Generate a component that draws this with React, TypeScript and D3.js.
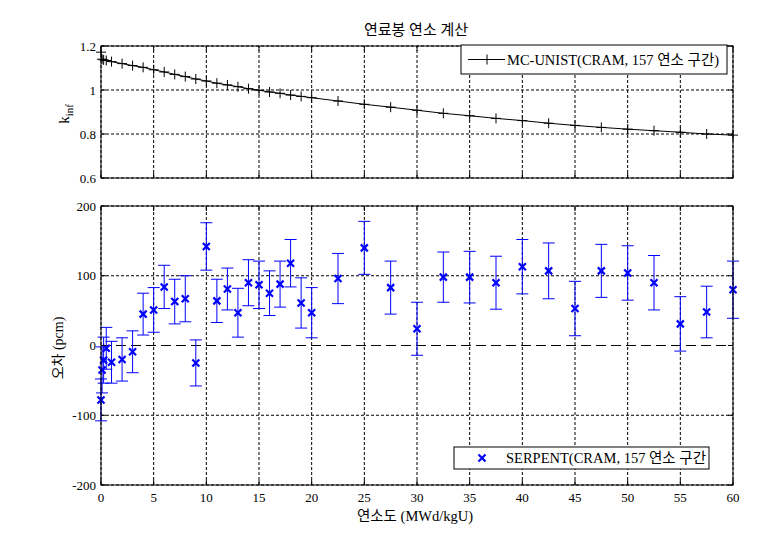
import * as d3 from "d3";

// burnup steps (MWd/kgU)
const burnup = [0, 0.1, 0.25, 0.5, 1, 2, 3, 4, 5, 6, 7, 8, 9, 10, 11, 12, 13, 14, 15, 16, 17, 18, 19, 20,
  22.5, 25, 27.5, 30, 32.5, 35, 37.5, 40, 42.5, 45, 47.5, 50, 52.5, 55, 57.5, 60];
// MC-UNIST k-inf
const kinf = [1.172, 1.14, 1.137, 1.134, 1.129, 1.12, 1.111, 1.103, 1.092, 1.082, 1.071, 1.061, 1.05, 1.041,
  1.031, 1.023, 1.015, 1.006, 0.999, 0.991, 0.985, 0.977, 0.971, 0.965,
  0.95, 0.935, 0.922, 0.908, 0.894, 0.883, 0.871, 0.861, 0.849, 0.839, 0.83, 0.822, 0.815, 0.808, 0.8, 0.795];
// SERPENT difference (pcm) and its error
const diffPcm = [-78, -35, -21, -4, -24, -20, -9, 45, 51, 84, 63, 67, -25, 142, 64, 81, 47, 90, 87, 75, 88, 118, 61, 47,
  96, 140, 83, 24, 98, 98, 90, 113, 107, 53, 107, 104, 90, 31, 48, 80];
const errPcm = [30, 33, 33, 30, 30, 31, 30, 30, 32, 31, 32, 33, 33, 34, 31, 30, 35, 33, 34, 32, 33, 34, 36, 36,
  36, 38, 38, 38, 36, 37, 38, 39, 40, 39, 38, 39, 39, 39, 37, 41];

const xTicks = [0, 5, 10, 15, 20, 25, 30, 35, 40, 45, 50, 55, 60];
const topTicks = [0.6, 0.8, 1, 1.2];
const botTicks = [-200, -100, 0, 100, 200];

const title = "연료봉 연소 계산";
const xLabel = "연소도 (MWd/kgU)";
const botYLabel = "오차 (pcm)";
const topLegend = "MC-UNIST(CRAM, 157 연소 구간)";
const botLegend = "SERPENT(CRAM, 157 연소 구간";

const W = 780;
const H = 558;
const font = "'Liberation Serif', 'Times New Roman', 'Noto Sans CJK KR', serif";

const App = () => {
  const x = d3.scaleLinear().domain([0, 60]).range([101, 733]);
  const yTop = d3.scaleLinear().domain([0.6, 1.2]).range([178, 46]);
  const yBot = d3.scaleLinear().domain([-200, 200]).range([485, 206]);

  const kLine = d3.line<number>()
    .x((d, i) => x(burnup[i]))
    .y((d) => yTop(d));

  const blue = "#0000ff";
  const tk = 5;

  const frame = (y: d3.ScaleLinear<number, number>, yt: number[]) => {
    const [y0, y1] = y.range();
    return (
      <g>
        <rect x={x(0)} y={y1} width={x(60) - x(0)} height={y0 - y1} fill="none" stroke="#000" strokeWidth={1} />
        {xTicks.map((t) => (
          <g key={"xt" + t}>
            <line x1={x(t)} x2={x(t)} y1={y0} y2={y0 - tk} stroke="#000" />
            <line x1={x(t)} x2={x(t)} y1={y1} y2={y1 + tk} stroke="#000" />
          </g>
        ))}
        {yt.map((t) => (
          <g key={"yt" + t}>
            <line x1={x(0)} x2={x(0) + tk} y1={y(t)} y2={y(t)} stroke="#000" />
            <line x1={x(60)} x2={x(60) - tk} y1={y(t)} y2={y(t)} stroke="#000" />
          </g>
        ))}
      </g>
    );
  };

  const grid = (y: d3.ScaleLinear<number, number>, yt: number[]) => {
    const [y0, y1] = y.range();
    return (
      <g stroke="#000" strokeWidth={1} strokeDasharray="3,2">
        {xTicks.map((t) => (
          <line key={"gx" + t} x1={x(t)} x2={x(t)} y1={y0} y2={y1} />
        ))}
        {yt.map((t) => (
          <line key={"gy" + t} x1={x(0)} x2={x(60)} y1={y(t)} y2={y(t)} />
        ))}
      </g>
    );
  };

  return (
    <svg width={W} height={H} style={{ position: "absolute", left: 0, top: 0, background: "#fff" }}
      fontFamily={font} fontSize={13}>
      <text x={416} y={35} textAnchor="middle" fontSize={15}>{title}</text>

      {/* top panel */}
      {grid(yTop, topTicks)}
      <path d={kLine(kinf) || ""} fill="none" stroke="#000" strokeWidth={1} />
      {kinf.map((k, i) => (
        <path key={"p" + i} d={`M${x(burnup[i]) - 5},${yTop(k)}h10M${x(burnup[i])},${yTop(k) - 5}v10`}
          stroke="#000" strokeWidth={1} />
      ))}
      {frame(yTop, topTicks)}
      {topTicks.map((t) => (
        <text key={"tl" + t} x={96} y={yTop(t) + 4.5} textAnchor="end">{t === 1 ? "1" : t.toFixed(1)}</text>
      ))}
      <text transform="translate(69,114) rotate(-90)" textAnchor="middle" fontSize={15}>
        k<tspan fontSize={11} dy={4}>inf</tspan>
      </text>
      <g>
        <rect x={461} y={45} width={266} height={29} fill="#fff" stroke="#000" />
        <line x1={468} x2={505} y1={59.5} y2={59.5} stroke="#000" />
        <path d={`M482,59.5h10M487,54.5v10`} stroke="#000" />
        <text x={507} y={64.5} fontSize={14.5}>{topLegend}</text>
      </g>

      {/* bottom panel */}
      {grid(yBot, botTicks.filter((t) => t !== 0))}
      <line x1={x(0)} x2={x(60)} y1={yBot(0)} y2={yBot(0)} stroke="#000" strokeDasharray="10,5" />
      <g stroke={blue} strokeWidth={1}>
        {diffPcm.map((d, i) => {
          const cx = x(burnup[i]);
          const hi = yBot(d + errPcm[i]);
          const lo = yBot(d - errPcm[i]);
          return (
            <g key={"e" + i}>
              <line x1={cx} x2={cx} y1={hi} y2={lo} />
              <line x1={cx - 6} x2={cx + 6} y1={hi} y2={hi} />
              <line x1={cx - 6} x2={cx + 6} y1={lo} y2={lo} />
            </g>
          );
        })}
      </g>
      <g stroke={blue} strokeWidth={2.2}>
        {diffPcm.map((d, i) => {
          const cx = x(burnup[i]);
          const cy = yBot(d);
          return (
            <path key={"m" + i} d={`M${cx - 3.5},${cy - 3.5}L${cx + 3.5},${cy + 3.5}M${cx - 3.5},${cy + 3.5}L${cx + 3.5},${cy - 3.5}`} />
          );
        })}
      </g>
      {frame(yBot, botTicks)}
      {botTicks.map((t) => (
        <text key={"bl" + t} x={96} y={yBot(t) + 4.5} textAnchor="end">{t}</text>
      ))}
      {xTicks.map((t) => (
        <text key={"xl" + t} x={x(t)} y={502} textAnchor="middle">{t}</text>
      ))}
      <text x={415} y={521} textAnchor="middle" fontSize={14.5}>{xLabel}</text>
      <text transform="translate(63,348) rotate(-90)" textAnchor="middle" fontSize={14}>{botYLabel}</text>
      <g>
        <rect x={454} y={447} width={255} height={22} fill="#fff" stroke="#000" />
        <path d="M478.5,454.5L485.5,461.5M478.5,461.5L485.5,454.5" stroke={blue} strokeWidth={2.2} />
        <text x={506} y={463} fontSize={14.5}>{botLegend}</text>
      </g>
    </svg>
  );
};

export default App;
